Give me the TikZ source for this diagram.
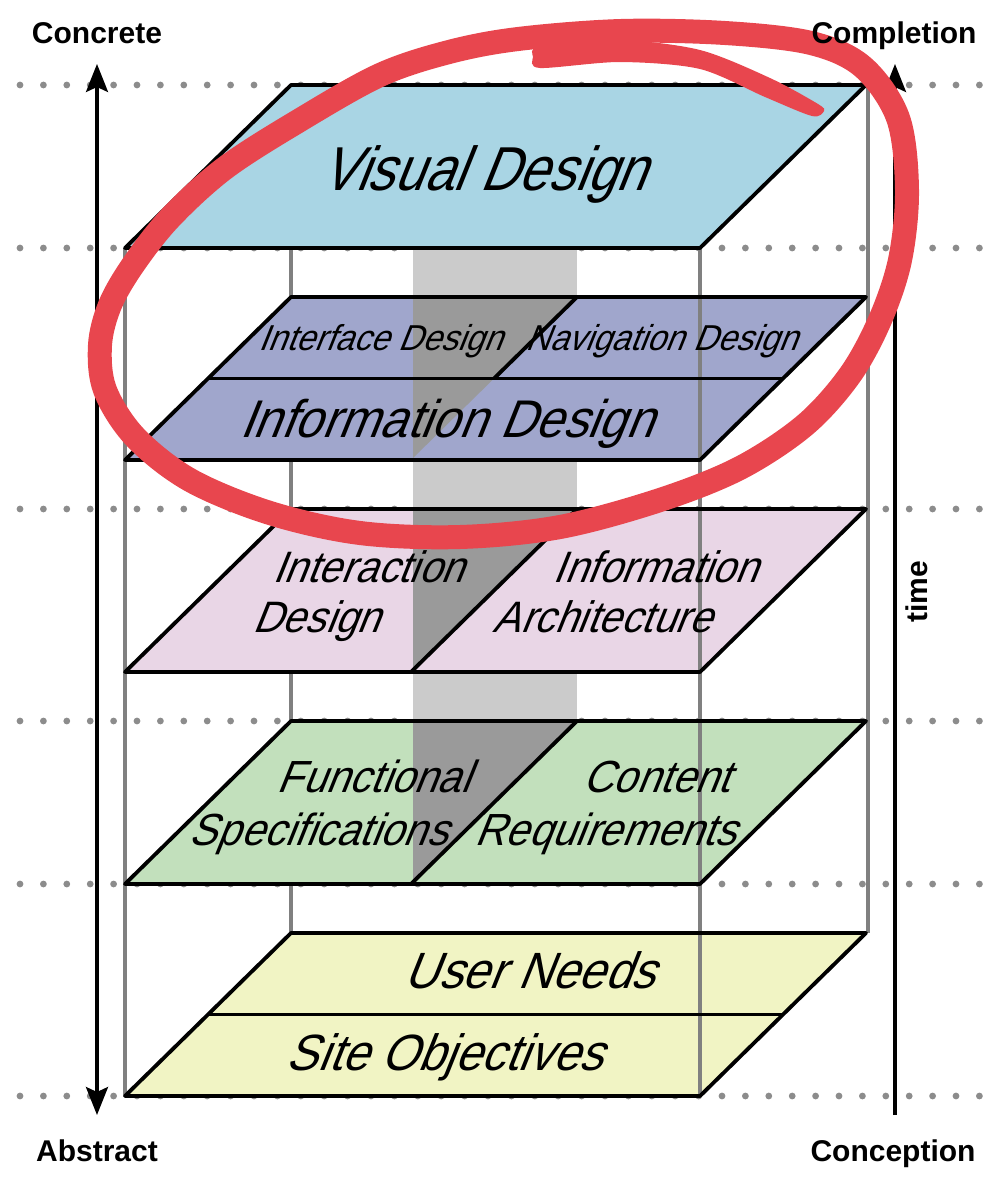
\documentclass[tikz,border=0pt]{standalone}
\usepackage{fontspec}
\setmainfont{Liberation Sans}
\newfontfamily\layerfont{Liberation Sans}[FakeSlant=0.4,FakeStretch=0.93]
\newfontfamily\vdfont{Liberation Sans}[FakeSlant=0.4,FakeStretch=0.86]
\usetikzlibrary{arrows.meta}
\definecolor{vdblue}{RGB}{169,213,228}
\definecolor{idpurple}{RGB}{160,166,204}
\definecolor{iapink}{RGB}{233,214,230}
\definecolor{fsgreen}{RGB}{194,224,188}
\definecolor{unyellow}{RGB}{241,244,196}
\definecolor{darkband}{RGB}{154,154,154}
\definecolor{lightband}{RGB}{203,203,203}
\definecolor{boxgray}{RGB}{128,128,128}
\definecolor{dotgray}{RGB}{140,140,140}
\definecolor{markred}{RGB}{232,70,78}
\tikzset{
  layeredge/.style={draw=black,line width=3.8pt,line join=round},
  boxline/.style={draw=boxgray,line width=3.4pt},
  axis/.style={line width=3.2pt},
  bigtip/.tip={Stealth[length=28pt,width=22pt,inset=5pt]},
  lbl/.style={font=\layerfont\fontsize{#1}{#1}\selectfont, anchor=base, inner sep=0pt},
  axlabel/.style={font=\fontsize{30}{36}\selectfont\bfseries, anchor=base, inner sep=0pt},
  redmark/.style={draw=markred, line width=24pt, line cap=round, line join=round},
}
\begin{document}
\begin{tikzpicture}[x=1pt,y=-1pt]
\useasboundingbox (0,0) rectangle (990,1200);
% dotted guide lines
\foreach \yy in {85,248,509,721,884,1096}{
  \foreach \k in {0,...,41}{
    \fill[dotgray] ({20+23.4*\k},\yy) circle (3.4);
  }
}
% light gray band
\fill[lightband] (413,248) rectangle (577,721);
% box edges behind the layers
\draw[boxline] (291,248) -- (291,933);
\draw[boxline] (868,85) -- (868,933);
\draw[boxline] (125,248) -- (125,1096);
% layer fills
\fill[vdblue] (125,248) -- (700,248) -- (866,85) -- (291,85) -- cycle;
\fill[idpurple] (125,460) -- (700,460) -- (866,297) -- (291,297) -- cycle;
\fill[iapink] (125,672) -- (700,672) -- (866,509) -- (291,509) -- cycle;
\fill[fsgreen] (125,884) -- (700,884) -- (866,721) -- (291,721) -- cycle;
\fill[unyellow] (125,1096) -- (700,1096) -- (866,933) -- (291,933) -- cycle;
% dark part of the band inside layers
\fill[darkband] (413,297) -- (577,297) -- (413,458) -- cycle;
\fill[darkband] (413,509) -- (577,509) -- (413,670) -- cycle;
\fill[darkband] (413,721) -- (577,721) -- (413,882) -- cycle;
% front right box edge
\draw[boxline] (700,248) -- (700,1096);
% layer outlines
\draw[layeredge] (125,248) -- (700,248) -- (866,85) -- (291,85) -- cycle;
\draw[layeredge] (125,460) -- (700,460) -- (866,297) -- (291,297) -- cycle;
\draw[layeredge] (208,378.5) -- (783,378.5);
\draw[layeredge] (577,297) -- (494,378.5);
\draw[layeredge] (125,672) -- (700,672) -- (866,509) -- (291,509) -- cycle;
\draw[layeredge] (577,509) -- (411,672);
\draw[layeredge] (125,884) -- (700,884) -- (866,721) -- (291,721) -- cycle;
\draw[layeredge] (577,721) -- (411,884);
\draw[layeredge] (125,1096) -- (700,1096) -- (866,933) -- (291,933) -- cycle;
\draw[layeredge] (208,1014.5) -- (783,1014.5);
% layer texts
\node[anchor=base, inner sep=0pt, font=\vdfont\fontsize{62}{62}\selectfont] (vd) at (483,190) {Visual Design};
\node[lbl=36] (ifd) at (380,350) {Interface Design};
\node[lbl=36] (nvd) at (661,350) {Navigation Design};
\node[lbl=53] (infd) at (446,437) {Information Design};
\node[lbl=44] (ixdA) at (368,582) {Interaction};
\node[lbl=44] (ixdB) at (316,632) {Design};
\node[lbl=44] (iaA) at (655,582) {Information};
\node[lbl=44] (iaB) at (602,632) {Architecture};
\node[lbl=45] (fsA) at (373,792) {Functional};
\node[lbl=45] (fsB) at (318,845) {Specifications};
\node[lbl=45] (crA) at (656,792) {Content};
\node[lbl=45] (crB) at (605,845) {Requirements};
\node[lbl=51] (un) at (529,988) {User Needs};
\node[lbl=51] (so) at (444,1070) {Site Objectives};
% axes
\coordinate (concTip) at (97,64);
\coordinate (absTip) at (97,1115);
\draw[axis,bigtip-bigtip] (absTip) -- (concTip);
\coordinate (timeTop) at (895,64);
\coordinate (timeBot) at (895,1115);
\draw[axis,-bigtip] (timeBot) -- (timeTop);
% red annotation
\draw[redmark] plot[smooth cycle, tension=0.55] coordinates {
 (449,52) (518,39) (621,31) (725,33) (811,43) (863,67) (898,118) (907,190)
 (900,260) (880,320) (850,375) (805,425) (740,468) (660,500) (560,527)
 (460,537) (360,533) (270,513) (190,480) (135,437) (105,390) (100,345)
 (110,305) (133,265) (170,218) (225,168) (300,120) (380,75)};
\fill[markred] plot[smooth cycle, tension=0.5] coordinates {
 (540,46) (620,40) (700,50) (770,78) (818,104) (824,111) (812,116)
 (765,97) (700,69) (620,62) (540,68) (533,57)};
% axis labels
\node[axlabel] (concrete) at (97,43) {Concrete};
\node[axlabel] (abstract) at (97,1161) {Abstract};
\node[axlabel] (completion) at (894,43) {Completion};
\node[axlabel] (conception) at (893,1161) {Conception};
\node[font=\fontsize{30}{36}\selectfont\bfseries, rotate=90, inner sep=0pt] (time) at (917,592) {time};
\end{tikzpicture}
\end{document}
